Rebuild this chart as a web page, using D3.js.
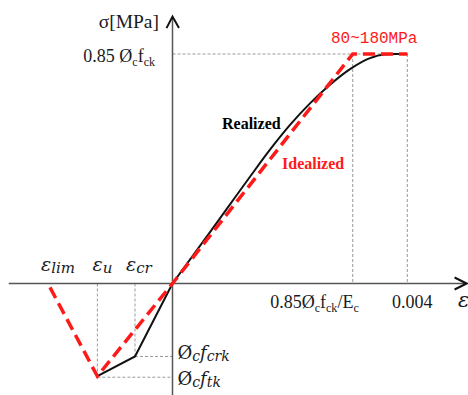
<!DOCTYPE html>
<html><head><meta charset="utf-8">
<script src="https://cdn.jsdelivr.net/npm/d3@7"></script>
<style>body{margin:0;background:#fff}svg{display:block}</style>
</head><body>
<svg id="c" width="468" height="395"></svg>
<script>
// Data (strain in ‰-like units, stress normalised to 0.85·Øc·fck = 1)
const realizedX = [-1.28, -0.639, 0, 0.639, 0.98, 1.32, 1.661, 2.002, 2.342, 2.683, 3.024, 3.365, 3.6, 3.8, 4.0];
const realizedY = [-0.404, -0.318, 0, 0.224, 0.345, 0.465, 0.583, 0.691, 0.785, 0.866, 0.934, 0.982, 0.998, 1.0, 1.0];
const idealizedX = [-2.087, -1.28, 0, 3.07, 4.0];
const idealizedY = [-0.017, -0.404, 0, 1.0, 1.0];
const keyStrains = {lim: -2.087, u: -1.28, cr: -0.639, yield: 3.07, ult: 4.0};
const keyStress = {top: 1.0, crk: -0.318, tk: -0.404};
const axisX = [-2.79, 5.01];
const axisY = [-0.49, 1.163];

const svg = d3.select("#c");
const x = d3.scaleLinear().domain([0, 4]).range([172.5, 407.3]);
const y = d3.scaleLinear().domain([0, 1]).range([283.5, 54]);

const gray = "#999";
function dash(x1, y1, x2, y2) {
  svg.append("line").attr("x1", x1).attr("y1", y1).attr("x2", x2).attr("y2", y2)
    .attr("stroke", gray).attr("stroke-width", 1).attr("stroke-dasharray", "3,2");
}
// reference dashed lines
dash(x(0), y(keyStress.top), x(keyStrains.ult), y(keyStress.top));
dash(x(keyStrains.yield), y(keyStress.top), x(keyStrains.yield), y(0));
dash(x(keyStrains.ult), y(keyStress.top), x(keyStrains.ult), y(0));
dash(x(keyStrains.u), y(0), x(keyStrains.u), y(keyStress.tk));
dash(x(keyStrains.cr), y(0), x(keyStrains.cr), y(keyStress.crk));
dash(x(keyStrains.cr), y(keyStress.crk), x(0), y(keyStress.crk));
dash(x(keyStrains.u), y(keyStress.tk) + 1, x(0), y(keyStress.tk) + 1);

// axes
svg.append("line").attr("x1", x(axisX[0])).attr("x2", x(axisX[1]) - 1).attr("y1", y(0)).attr("y2", y(0))
  .attr("stroke", "#555").attr("stroke-width", 1.5);
svg.append("line").attr("x1", x(0)).attr("x2", x(0)).attr("y1", y(axisY[0])).attr("y2", y(axisY[1]) + 1)
  .attr("stroke", "#555").attr("stroke-width", 1.5);
// arrowheads
const tx = x(axisX[1]), ty = y(0);
svg.append("path").attr("d", `M${tx-12},${ty-6}L${tx},${ty}L${tx-12},${ty+6}`)
  .attr("fill", "none").attr("stroke", "#111").attr("stroke-width", 2);
const ax = x(0), ay = y(axisY[1]);
svg.append("path").attr("d", `M${ax-6},${ay+11.5}L${ax},${ay}L${ax+6.5},${ay+11.5}`)
  .attr("fill", "none").attr("stroke", "#111").attr("stroke-width", 2);

// curves
const negR = realizedX.map((v, i) => [v, realizedY[i]]).filter(d => d[0] <= 0);
const posR = realizedX.map((v, i) => [v, realizedY[i]]).filter(d => d[0] >= 0);
const lineL = d3.line().x(d => x(d[0])).y(d => y(d[1]));
const lineC = d3.line().x(d => x(d[0])).y(d => y(d[1])).curve(d3.curveMonotoneX);
svg.append("path").attr("d", lineL(negR)).attr("fill", "none").attr("stroke", "#111").attr("stroke-width", 2);
svg.append("path").attr("d", lineC(posR)).attr("fill", "none").attr("stroke", "#111").attr("stroke-width", 2);
svg.append("path").attr("d", lineL(idealizedX.map((v, i) => [v, idealizedY[i]])))
  .attr("fill", "none").attr("stroke", "#ff1a1a").attr("stroke-width", 3.5)
  .attr("stroke-dasharray", "12,6").attr("stroke-linejoin", "miter");

// text helper
const serif = "'Liberation Serif', 'Times New Roman', serif";
function label(px, py, parts, opts = {}) {
  const t = svg.append("text").attr("x", px).attr("y", py)
    .attr("font-family", opts.family || serif).attr("font-size", opts.size || 18)
    .attr("fill", opts.color || "#1a1a22").attr("text-anchor", opts.anchor || "start");
  let cur = 0;
  parts.forEach(p => {
    const target = p.sub ? (opts.subShift || 4) : 0;
    const s = t.append("tspan").text(p.t).attr("dy", target - cur);
    cur = target;
    if (p.sub) s.attr("font-size", opts.subSize || 12);
    if (p.it) s.attr("font-style", "italic");
  });
  return t;
}

label(159, 28, [{t: "σ[MPa]"}], {size: 19.5, anchor: "end"});
label(155, 62, [{t: "0.85 Ø"}, {t: "c", sub: 1}, {t: "f"}, {t: "ck", sub: 1}], {size: 18, anchor: "end"});
label(x(keyStrains.yield) + 6, 308, [{t: "0.85Ø"}, {t: "c", sub: 1}, {t: "f"}, {t: "ck", sub: 1}, {t: "/E"}, {t: "c", sub: 1}], {size: 18, anchor: "end"});
label(x(keyStrains.ult) + 5, 308, [{t: "0.004"}], {size: 18, anchor: "middle"});
label(458, 307, [{t: "ε", it: 1}], {size: 21, family: "'DejaVu Serif', serif"});

const mathF = "'DejaVu Serif', serif";
label(41, 271, [{t: "ε", it: 1}, {t: "lim", it: 1, sub: 1}], {size: 19, family: mathF, subSize: 15, subShift: 2});
label(92.5, 271, [{t: "ε", it: 1}, {t: "u", it: 1, sub: 1}], {size: 19, family: mathF, subSize: 15, subShift: 2});
label(126, 271, [{t: "ε", it: 1}, {t: "cr", it: 1, sub: 1}], {size: 19, family: mathF, subSize: 15, subShift: 2});
label(177.5, 359, [{t: "Ø"}, {t: "c", it: 1, sub: 1}, {t: "f", it: 1}, {t: "crk", it: 1, sub: 1}], {size: 18, family: mathF, subSize: 14, subShift: 2});
label(177.5, 385, [{t: "Ø"}, {t: "c", it: 1, sub: 1}, {t: "f", it: 1}, {t: "tk", it: 1, sub: 1}], {size: 18, family: mathF, subSize: 14, subShift: 2});

label(222, 129, [{t: "Realized"}], {size: 16}).attr("font-weight", "bold").attr("fill", "#000");
label(282, 169, [{t: "Idealized"}], {size: 16}).attr("font-weight", "bold").attr("fill", "#ff1a1a");
label(331, 43, [{t: "80~180MPa"}], {size: 16, family: "'Liberation Mono', monospace", color: "#ff1a1a"});
</script>
</body></html>
